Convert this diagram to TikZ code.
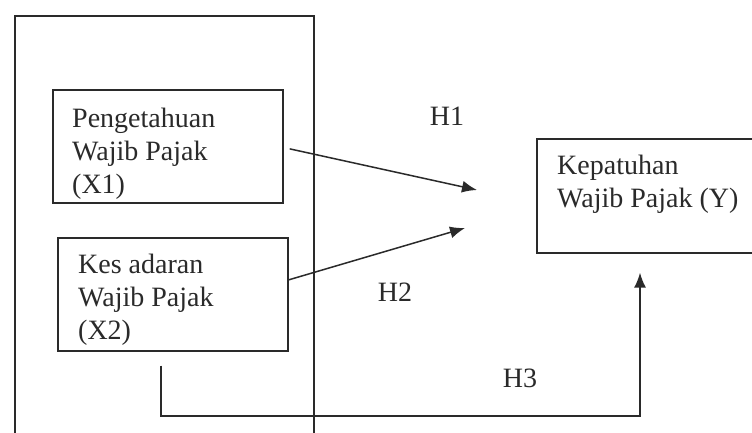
\documentclass[tikz,border=0pt]{standalone}
\usepackage{fontspec}
\setmainfont{Liberation Serif}
\usetikzlibrary{arrows.meta}
\definecolor{ink}{HTML}{2A2A2A}
\tikzset{
  boxshape/.style={draw=ink, line width=1.7pt, rectangle, inner sep=0pt},
  txt/.style={inner sep=0pt, align=left, text=ink, font={\fontsize{28}{33}\selectfont}},
  conn/.style={draw=ink, line width=1.5pt},
  tip/.style={-{Latex[length=15pt,width=12pt]}}
}
\begin{document}
\begin{tikzpicture}[x=1pt,y=-1pt]
\useasboundingbox (0,0) rectangle (752,432);
\clip (0,0) rectangle (752,432);
\fill[white] (0,0) rectangle (752,432);
% outer frame
\node[boxshape, minimum width=299pt, minimum height=460pt, anchor=north west] (outer) at (14,15) {};
% boxes
\node[boxshape, minimum width=230pt, minimum height=113pt, anchor=north west] (x1) at (52,89) {};
\node[boxshape, minimum width=230pt, minimum height=113pt, anchor=north west] (x2) at (57,237) {};
\node[boxshape, minimum width=240pt, minimum height=114pt, anchor=north west] (y) at (536,138) {};
% texts (anchored on the baseline of the last line)
\node[txt, anchor=base west] (x1t) at (72,193) {Pengetahuan\\Wajib Pajak\\(X1)};
\node[txt, anchor=base west] (x2t) at (78,339) {Kes adaran\\Wajib Pajak\\(X2)};
\node[txt, anchor=base west] (yt) at (557,207) {Kepatuhan\\Wajib Pajak (Y)};
% labels
\node[txt, anchor=base] (h1) at (447,125) {H1};
\node[txt, anchor=base] (h2) at (395,301) {H2};
\node[txt, anchor=base] (h3) at (520,387) {H3};
% connector ends
\coordinate (h1s) at ([shift={(6,2.5)}]x1.east);
\coordinate (h1e) at (477,190);
\coordinate (h2s) at ([shift={(0,-14.5)}]x2.east);
\coordinate (h2e) at (465,228);
\coordinate (h3s) at ([shift={(-12,14)}]x2.south);
\coordinate (h3c) at (640,416);
\coordinate (h3e) at ([shift={(104,19)}]y.south west);
% connectors
\draw[conn, tip] (h1s) -- (h1e);
\draw[conn, tip] (h2s) -- (h2e);
\draw[conn, tip] (h3s) |- (h3c) -- (h3e);
\end{tikzpicture}
\end{document}
